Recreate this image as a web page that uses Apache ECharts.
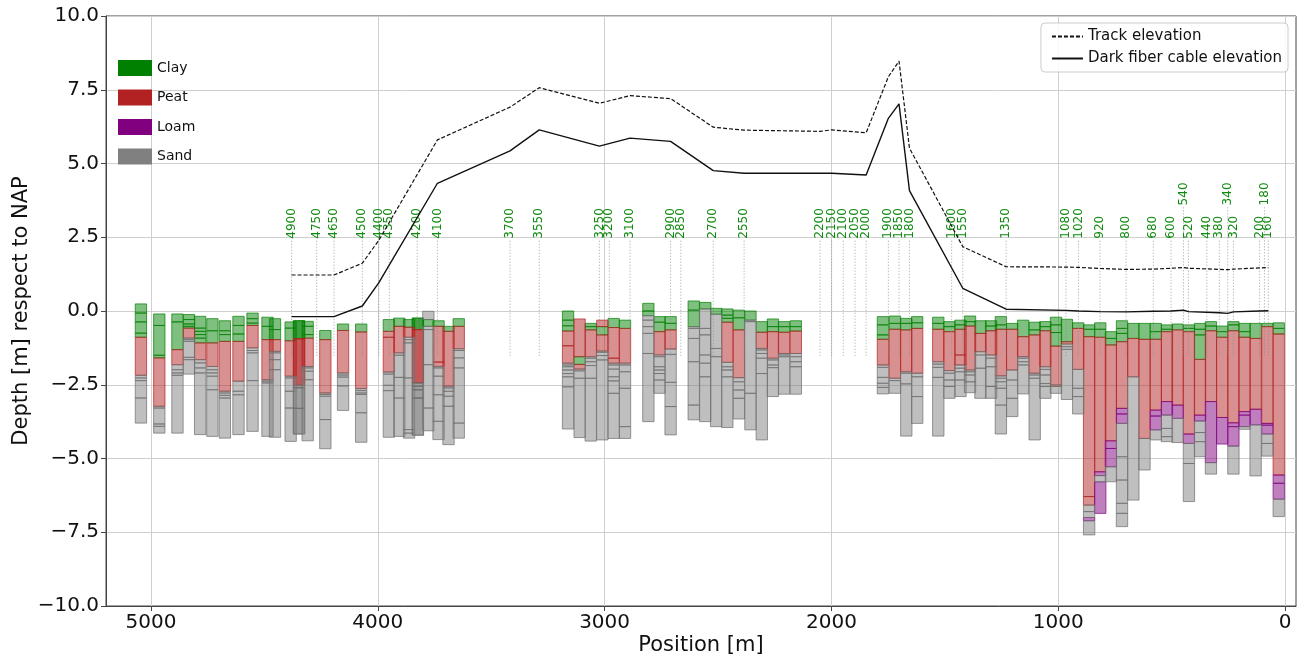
<!DOCTYPE html>
<html>
<head>
<meta charset="utf-8">
<script src="https://cdn.jsdelivr.net/npm/echarts@6/dist/echarts.min.js"></script>
<style>
  html, body { margin: 0; padding: 0; background: #fff; }
  #main { width: 1301px; height: 661px; }
</style>
</head>
<body>
<div id="main"></div>
<script>
// elevation profile, position in m along the track
var posX  = [4380, 4193, 4068, 3995, 3737, 3417, 3288, 3023, 2888, 2709, 2521, 2385, 2050, 1999, 1847, 1749, 1702, 1656, 1421, 1230, 966, 911, 816, 701, 581, 503, 448, 426, 290, 253, 228, 113, 74];
var track = [1.22, 1.22, 1.62, 2.40, 5.80, 6.91, 7.57, 7.04, 7.30, 7.20, 6.23, 6.13, 6.09, 6.14, 6.04, 7.94, 8.47, 5.52, 2.18, 1.50, 1.49, 1.48, 1.44, 1.41, 1.42, 1.45, 1.47, 1.45, 1.41, 1.40, 1.42, 1.46, 1.47];
var cable = [-0.19, -0.19, 0.17, 0.96, 4.33, 5.43, 6.14, 5.59, 5.86, 5.75, 4.76, 4.67, 4.67, 4.67, 4.61, 6.53, 7.02, 4.08, 0.77, 0.06, 0.02, 0.0, -0.02, -0.03, -0.01, 0.0, 0.03, -0.02, -0.06, -0.08, -0.03, 0.0, 0.01];

// green chainage labels
var labelText = ['4900','4750','4650','4500','4400','4350','4200','4100','3700','3550','3250','3200','3100','2900','2850','2700','2550','2200','2150','2100','2050','2000','1900','1850','1800','1600','1550','1350','1080','1020','920','800','680','600','540','520','440','380','340','320','200','180','160'];
var labelX = [4380, 4269, 4193, 4068, 3995, 3949, 3826, 3737, 3417, 3288, 3023, 2979, 2888, 2709, 2664, 2521, 2385, 2050, 1999, 1948, 1896, 1847, 1749, 1702, 1656, 1470, 1421, 1230, 966, 911, 816, 701, 581, 503, 448, 426, 345, 290, 253, 228, 113, 91, 74];
var labelHigh = ['540', '340', '180'];

var xTicks = [0, 1000, 2000, 3000, 4000, 5000];

// boreholes: position, top elevation, then layers as (type, bottom)
var boreX = [
  5044, 4963, 4883, 4832, 4783, 4729, 4674, 4614, 4552, 4486, 4453, 4384, 4347, 4347, 4309, 4231, 4153, 4073, 3951, 3905, 3862, 3823, 3823, 3777, 3732, 3688, 3643,
  3161, 3110, 3061, 3010, 2960, 2910, 2807, 2758, 2709, 2607, 2556, 2508, 2459, 2408, 2357, 2307, 2258, 2209, 2157,
  1773, 1720, 1670, 1622, 1529, 1480, 1431, 1389, 1343, 1296, 1253, 1203, 1155, 1104, 1057, 1010, 962, 912, 864, 815, 768, 719, 669, 620, 570, 521, 474, 424, 375, 327, 277, 228, 179, 130, 78, 28
];
var boreTop = [
  0.24, -0.10, -0.10, -0.12, -0.18, -0.26, -0.33, -0.18, -0.07, -0.21, -0.26, -0.37, -0.33, -0.33, -0.35, -0.66, -0.44, -0.44, -0.29, -0.24, -0.29, -0.24, -0.24, -0.01, -0.33, -0.52, -0.26,
  0.0, -0.27, -0.42, -0.31, -0.25, -0.31, 0.26, -0.19, -0.19, 0.34, 0.29, 0.09, 0.07, 0.03, 0.0, -0.36, -0.27, -0.36, -0.33,
  -0.19, -0.17, -0.25, -0.19, -0.21, -0.36, -0.31, -0.17, -0.33, -0.33, -0.19, -0.42, -0.31, -0.38, -0.36, -0.21, -0.28, -0.40, -0.47, -0.40, -0.70, -0.33, -0.42, -0.42, -0.42, -0.47, -0.44, -0.47, -0.42, -0.36, -0.51, -0.36, -0.42, -0.42, -0.42, -0.40
];
var boreLayers = [
  ['c',-0.07,'c',-0.37,'c',-0.75,'c',-0.89,'p',-2.18,'s',-2.27,'s',-2.36,'s',-2.95,'s',-3.80],
  ['c',-0.49,'c',-1.50,'c',-1.59,'p',-3.23,'s',-3.29,'s',-3.83,'s',-3.91,'s',-4.14],
  ['c',-0.37,'c',-1.31,'p',-1.82,'s',-1.99,'s',-2.10,'s',-2.18,'s',-4.14],
  ['c',-0.29,'c',-0.44,'c',-0.52,'c',-0.58,'p',-0.92,'s',-0.97,'s',-1.03,'s',-1.57,'s',-1.65,'s',-2.14],
  ['c',-0.58,'c',-0.69,'c',-0.80,'c',-0.92,'c',-1.08,'p',-1.65,'s',-1.76,'s',-1.93,'s',-2.10,'s',-4.19],
  ['c',-0.67,'c',-1.08,'p',-1.88,'s',-1.99,'s',-2.10,'s',-2.21,'s',-2.67,'s',-4.25],
  ['c',-0.67,'c',-0.80,'c',-1.03,'p',-2.72,'s',-2.78,'s',-2.86,'s',-2.95,'s',-4.31],
  ['c',-0.49,'c',-0.78,'c',-1.03,'p',-2.38,'s',-2.72,'s',-2.84,'s',-4.19],
  ['c',-0.26,'c',-0.41,'c',-0.49,'p',-1.25,'s',-1.34,'s',-1.42,'s',-2.36,'s',-4.08],
  ['c',-0.52,'c',-0.97,'p',-2.33,'s',-2.38,'s',-2.44,'s',-4.25],
  ['c',-0.63,'c',-0.97,'p',-1.37,'s',-1.42,'s',-1.65,'s',-1.99,'s',-4.28],
  ['c',-0.58,'c',-1.01,'p',-2.21,'s',-2.27,'s',-2.72,'s',-3.29,'s',-4.42],
  ['c',-0.94,'p',-2.52,'s',-2.60,'s',-3.30,'s',-4.17],
  ['c',-0.94,'p',-2.52,'s',-2.60,'s',-3.30,'s',-4.17],
  ['c',-0.52,'c',-0.80,'c',-0.92,'p',-1.88,'s',-1.93,'s',-2.04,'s',-2.33,'s',-4.40],
  ['c',-0.97,'p',-2.78,'s',-2.83,'s',-2.89,'s',-3.68,'s',-4.67],
  ['c',-0.66,'p',-2.10,'s',-2.17,'s',-2.24,'s',-2.54,'s',-3.37],
  ['c',-0.71,'p',-2.63,'s',-2.70,'s',-2.78,'s',-2.83,'s',-3.45,'s',-4.45],
  ['c',-0.69,'p',-0.89,'p',-2.07,'s',-2.14,'s',-2.52,'s',-2.70,'s',-4.28],
  ['c',-0.52,'p',-1.42,'s',-1.50,'s',-2.25,'s',-2.95,'s',-4.25],
  ['c',-0.55,'p',-0.89,'s',-0.97,'s',-1.08,'s',-2.27,'s',-4.02,'s',-4.14,'s',-4.31],
  ['c',-0.63,'p',-2.44,'s',-2.55,'s',-2.67,'s',-2.95,'s',-4.21],
  ['c',-0.63,'p',-2.44,'s',-2.55,'s',-2.67,'s',-2.95,'s',-4.21],
  ['s',-0.29,'c',-0.52,'s',-0.63,'s',-1.82,'s',-3.29,'s',-4.06],
  ['c',-0.52,'p',-1.73,'p',-1.88,'s',-1.93,'s',-2.21,'s',-2.84,'s',-3.74,'s',-4.36],
  ['c',-0.69,'p',-2.55,'s',-2.61,'s',-2.72,'s',-2.89,'s',-3.23,'s',-4.53],
  ['c',-0.52,'p',-1.28,'s',-1.34,'s',-1.59,'s',-1.93,'s',-3.80,'s',-4.31],

  ['c',-0.31,'c',-0.50,'c',-0.68,'p',-1.18,'p',-1.77,'s',-1.83,'s',-1.89,'s',-2.00,'s',-2.12,'s',-2.23,'s',-2.57,'s',-4.00],
  ['p',-1.55,'c',-1.81,'p',-1.97,'s',-2.03,'s',-2.28,'s',-4.29],
  ['c',-0.53,'c',-0.64,'p',-1.55,'s',-1.60,'s',-1.72,'s',-1.85,'s',-2.28,'s',-4.41],
  ['p',-0.53,'c',-0.81,'p',-1.36,'s',-1.40,'s',-1.51,'s',-1.66,'s',-4.37],
  ['c',-0.56,'p',-1.60,'p',-1.77,'s',-1.83,'s',-1.97,'s',-2.23,'s',-2.37,'s',-2.79,'s',-4.32],
  ['c',-0.59,'p',-1.77,'s',-1.83,'s',-2.06,'s',-2.62,'s',-3.92,'s',-4.32],
  ['c',0.0,'c',-0.16,'s',-0.31,'s',-0.53,'s',-0.76,'s',-1.44,'s',-3.75],
  ['c',-0.38,'c',-0.70,'p',-1.49,'s',-1.55,'s',-1.89,'s',-2.00,'s',-2.12,'s',-2.34,'s',-2.79],
  ['c',-0.42,'c',-0.64,'p',-1.29,'s',-1.47,'s',-2.42,'s',-3.24,'s',-4.20],
  ['c',0.03,'c',-0.53,'s',-0.59,'s',-0.93,'s',-1.72,'s',-3.19,'s',-3.69],
  ['c',0.07,'s',-0.59,'s',-0.81,'s',-1.49,'s',-1.77,'s',-2.23,'s',-3.75],
  ['c',-0.11,'s',-1.27,'s',-1.55,'s',-3.92],
  ['c',-0.14,'c',-0.25,'c',-0.38,'p',-1.74,'s',-1.89,'s',-2.00,'s',-2.23,'s',-3.95],
  ['c',-0.23,'c',-0.64,'p',-2.26,'s',-2.40,'s',-2.68,'s',-2.96,'s',-3.66],
  ['c',-0.31,'s',-0.36,'s',-2.79,'s',-4.03],
  ['c',-0.72,'p',-1.27,'s',-1.32,'s',-1.44,'s',-1.60,'s',-2.12,'s',-4.37],
  ['c',-0.53,'c',-0.70,'p',-1.60,'s',-1.66,'s',-1.83,'s',-1.92,'s',-2.90],
  ['c',-0.53,'c',-0.72,'p',-1.44,'s',-1.49,'s',-1.55,'s',-2.82],
  ['c',-0.53,'c',-0.68,'p',-1.44,'s',-1.55,'s',-1.72,'s',-1.89,'s',-2.82],

  ['c',-0.47,'c',-0.81,'c',-0.96,'p',-1.83,'s',-1.91,'s',-2.25,'s',-2.45,'s',-2.59,'s',-2.81],
  ['c',-0.42,'c',-0.62,'p',-2.28,'s',-2.36,'s',-2.79],
  ['c',-0.42,'c',-0.64,'p',-2.06,'s',-2.11,'s',-2.47,'s',-4.24],
  ['c',-0.40,'c',-0.59,'p',-2.11,'s',-2.23,'s',-2.90,'s',-3.81],
  ['c',-0.42,'c',-0.62,'p',-1.72,'s',-1.80,'s',-1.91,'s',-2.25,'s',-4.24],
  ['c',-0.53,'c',-0.70,'p',-2.02,'s',-2.11,'s',-2.34,'s',-2.56,'s',-2.96],
  ['c',-0.47,'c',-0.62,'p',-1.49,'p',-1.83,'s',-1.94,'s',-2.06,'s',-2.34,'s',-2.90],
  ['c',-0.36,'c',-0.51,'p',-2.00,'s',-2.06,'s',-2.17,'s',-2.40,'s',-2.77],
  ['c',-0.76,'p',-1.38,'s',-1.49,'s',-1.94,'s',-2.96],
  ['c',-0.51,'c',-0.67,'p',-1.49,'s',-1.60,'s',-1.89,'s',-2.56,'s',-2.96],
  ['c',-0.47,'c',-0.62,'p',-2.20,'s',-2.28,'s',-2.40,'s',-2.62,'s',-3.19,'s',-4.17],
  ['c',-0.62,'p',-2.00,'s',-2.34,'s',-2.96,'s',-3.58],
  ['c',-0.87,'p',-1.55,'s',-1.60,'s',-1.72,'s',-1.83,'s',-2.81],
  ['c',-0.64,'c',-0.81,'p',-2.11,'s',-2.17,'s',-2.28,'s',-4.37],
  ['c',-0.53,'c',-0.67,'p',-1.89,'s',-1.98,'s',-2.17,'s',-2.46,'s',-2.56,'s',-2.96],
  ['c',-0.47,'c',-0.73,'c',-1.19,'p',-2.51,'s',-2.56,'s',-2.79],
  ['c',-1.04,'p',-1.12,'s',-1.21,'s',-1.30,'s',-3.00],
  ['c',-0.59,'p',-1.98,'s',-2.62,'s',-2.90,'s',-3.49],
  ['c',-0.62,'c',-0.87,'p',-6.29,'p',-6.58,'s',-6.80,'s',-7.00,'l',-7.11,'s',-7.59],
  ['c',-0.62,'c',-0.89,'p',-5.45,'l',-5.58,'s',-5.79,'l',-6.86],
  ['c',-0.93,'c',-1.15,'p',-4.40,'l',-4.66,'l',-5.28,'s',-5.79],
  ['c',-0.59,'c',-0.76,'c',-1.04,'p',-3.30,'l',-3.49,'l',-3.81,'s',-4.94,'s',-5.73,'s',-6.52,'s',-6.86,'s',-7.31],
  ['c',-0.93,'p',-2.23,'s',-6.41],
  ['c',-0.96,'p',-4.32,'s',-5.39],
  ['c',-0.70,'c',-0.96,'p',-3.36,'l',-3.56,'l',-4.03,'s',-4.37],
  ['c',-0.62,'c',-0.70,'p',-3.07,'l',-3.53,'s',-3.98,'s',-4.26,'s',-4.43],
  ['c',-0.64,'p',-3.19,'l',-3.64,'s',-4.46],
  ['c',-0.59,'c',-0.70,'p',-4.17,'l',-4.49,'s',-5.17,'s',-6.46],
  ['c',-0.62,'c',-0.81,'c',-1.64,'p',-3.53,'l',-3.73,'s',-4.12,'s',-4.43,'s',-4.94],
  ['c',-0.51,'c',-0.67,'p',-3.07,'l',-5.14,'s',-5.53],
  ['c',-0.70,'c',-0.89,'p',-3.61,'l',-4.51],
  ['c',-0.47,'c',-0.67,'p',-3.79,'l',-3.92,'l',-4.58,'s',-5.53],
  ['c',-0.70,'c',-0.89,'p',-3.41,'l',-3.53,'l',-3.92,'s',-4.01],
  ['c',-0.93,'p',-3.33,'l',-3.86,'s',-5.59],
  ['c',-0.53,'p',-3.81,'l',-3.87,'l',-4.17,'s',-4.49,'s',-4.92],
  ['c',-0.59,'c',-0.78,'p',-5.56,'l',-5.84,'l',-6.38,'s',-6.97]
];

var soilNames = ['Clay', 'Peat', 'Loam', 'Sand'];
var soilKeys = ['c', 'p', 'l', 's'];
var soilColors = ['#008000', '#b22222', '#800080', '#808080'];
var soilFill = ['rgba(0,128,0,0.5)', 'rgba(178,34,34,0.5)', 'rgba(128,0,128,0.5)', 'rgba(128,128,128,0.5)'];
var soilEdge = ['rgba(0,128,0,0.7)', 'rgba(178,34,34,0.7)', 'rgba(128,0,128,0.7)', 'rgba(110,110,110,0.7)'];
var BAR_W = 50;

var myChart = echarts.init(document.getElementById('main'));

// split the boreholes into one data list per soil type
function buildSoilData() {
    var out = [[], [], [], []];
    for (var i = 0; i < boreX.length; i++) {
        var layerTop = boreTop[i];
        var lay = boreLayers[i];
        for (var j = 0; j < lay.length; j += 2) {
            var k = soilKeys.indexOf(lay[j]);
            out[k].push([boreX[i], layerTop, lay[j + 1]]);
            layerTop = lay[j + 1];
        }
    }
    return out;
}
var soilData = buildSoilData();

function soilSeries(k) {
    return {
        name: soilNames[k],
        type: 'custom',
        z: 2,
        itemStyle: { color: soilColors[k] },
        encode: { x: 0, y: [1, 2] },
        data: soilData[k],
        renderItem: function (params, api) {
            var x = api.value(0);
            var p1 = api.coord([x - BAR_W / 2, api.value(1)]);
            var p2 = api.coord([x + BAR_W / 2, api.value(2)]);
            return {
                type: 'rect',
                shape: {
                    x: Math.min(p1[0], p2[0]),
                    y: p1[1],
                    width: Math.abs(p2[0] - p1[0]),
                    height: p2[1] - p1[1]
                },
                style: { fill: soilFill[k], stroke: soilEdge[k], lineWidth: 1 }
            };
        }
    };
}

var series = [];
for (var k = 0; k < 4; k++) series.push(soilSeries(k));

// dotted marker lines with the rotated green labels
series.push({
    type: 'custom',
    name: 'labels',
    z: 4,
    data: labelX.map(function (x) { return [x, 0]; }),
    renderItem: function (params, api) {
        var i = params.dataIndex;
        var hi = labelHigh.indexOf(labelText[i]) >= 0;
        var p = api.coord([labelX[i], hi ? 3.58 : 2.45]);
        var q = api.coord([labelX[i], -1.55]);
        return {
            type: 'group',
            children: [{
                type: 'line',
                shape: { x1: p[0], y1: p[1] + 2, x2: q[0], y2: q[1] },
                style: { stroke: '#8a8a8a', lineWidth: 0.8, lineDash: [1, 2] }
            }, {
                type: 'text',
                x: p[0],
                y: p[1],
                rotation: Math.PI / 2,
                style: {
                    text: labelText[i],
                    fill: '#108a10',
                    font: '12px "DejaVu Sans"',
                    align: 'left',
                    verticalAlign: 'middle'
                }
            }]
        };
    }
});

series.push({
    name: 'Track elevation',
    type: 'line',
    z: 5,
    symbol: 'none',
    data: posX.map(function (x, i) { return [x, track[i]]; }),
    lineStyle: { color: '#111', width: 1.2, type: [4, 2] },
    itemStyle: { color: '#111' }
});
series.push({
    name: 'Dark fiber cable elevation',
    type: 'line',
    z: 5,
    symbol: 'none',
    data: posX.map(function (x, i) { return [x, cable[i]]; }),
    lineStyle: { color: '#111', width: 1.4 },
    itemStyle: { color: '#111' }
});

var option = {
    animation: false,
    textStyle: { fontFamily: 'DejaVu Sans' },
    grid: {
        left: 106, right: 5, top: 16, bottom: 55,
        outerBoundsMode: 'none',
        containLabel: false,
        show: true, borderColor: '#444', borderWidth: 1
    },
    legend: [{
        data: ['Track elevation', 'Dark fiber cable elevation'],
        orient: 'vertical',
        right: 13, top: 23,
        itemWidth: 31, itemHeight: 10, itemGap: 7,
        padding: [6, 6, 6, 10],
        itemStyle: { opacity: 0 },
        borderColor: '#ccc', borderWidth: 1, borderRadius: 4,
        backgroundColor: 'rgba(255,255,255,0.85)',
        textStyle: { fontSize: 15, color: '#111', fontFamily: 'DejaVu Sans' }
    }, {
        data: soilNames.map(function (n) { return { name: n, icon: 'rect' }; }),
        orient: 'vertical',
        left: 113, top: 55,
        itemWidth: 34, itemHeight: 16, itemGap: 13.5,
        padding: 5,
        textStyle: { fontSize: 14, color: '#111', fontFamily: 'DejaVu Sans' }
    }],
    xAxis: {
        type: 'value',
        inverse: true,
        min: -48,
        max: 5198,
        name: 'Position [m]',
        nameLocation: 'middle',
        nameGap: 29,
        nameMoveOverlap: false,
        nameTextStyle: { fontSize: 21, color: '#111' },
        axisLine: { show: true, onZero: false, lineStyle: { color: '#444' } },
        axisTick: { show: true, length: 5, customValues: xTicks, lineStyle: { color: '#444' } },
        axisLabel: {
            fontSize: 20, color: '#111', margin: 7, customValues: xTicks,
            formatter: function (v) { return String(v); }
        },
        splitLine: { show: true, lineStyle: { color: '#cfcfcf', width: 1 } }
    },
    yAxis: {
        type: 'value',
        min: -10,
        max: 10,
        interval: 2.5,
        name: 'Depth [m] respect to NAP',
        nameLocation: 'middle',
        nameGap: 74,
        nameMoveOverlap: false,
        nameTextStyle: { fontSize: 21, color: '#111' },
        axisLine: { show: true, onZero: false, lineStyle: { color: '#444' } },
        axisTick: { show: true, length: 5, lineStyle: { color: '#444' } },
        axisLabel: {
            fontSize: 20, color: '#111', margin: 7,
            formatter: function (v) { return v.toFixed(1).replace('-', '\u2212'); }
        },
        splitLine: { show: true, lineStyle: { color: '#cfcfcf', width: 1 } }
    },
    series: series
};

myChart.setOption(option);
</script>
</body>
</html>
